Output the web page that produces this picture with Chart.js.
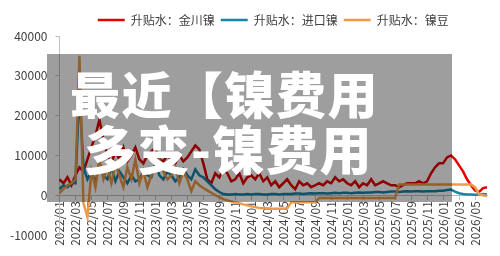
<!DOCTYPE html>
<html>
<head>
<meta charset="utf-8">
<script src="https://cdn.jsdelivr.net/npm/chart.js@4.4.1/dist/chart.umd.min.js"></script>
<style>
  html, body { margin: 0; padding: 0; background: #fff; }
  #wrap { position: relative; width: 500px; height: 256px; overflow: hidden; }
  #shade { position: absolute; left: 47px; top: 54px; width: 405px; height: 148px; background: rgba(0, 0, 0, 0.38); }
  .big { position: absolute; color: #fff; font-family: 'Noto Sans CJK SC', sans-serif; font-weight: 900; line-height: 1; white-space: nowrap; }
</style>
</head>
<body>
<div id="wrap">
  <canvas id="myChart" width="500" height="256"></canvas>
  <div id="shade"></div>
  <div class="big" style="left:70px;top:67px;font-size:50px;letter-spacing:1.5px">最近【镍费用</div>
  <div class="big" style="left:84px;top:122px;font-size:52px;letter-spacing:1.5px">多变-镍费用</div>
</div>
<script>
// half-month points, two per month
var months = [
  "2022/01","2022/02","2022/03","2022/04","2022/05","2022/06","2022/07","2022/08","2022/09","2022/10","2022/11","2022/12",
  "2023/01","2023/02","2023/03","2023/04","2023/05","2023/06","2023/07","2023/08","2023/09","2023/10","2023/11","2023/12",
  "2024/01","2024/02","2024/03","2024/04","2024/05","2024/06","2024/07","2024/08","2024/09","2024/10","2024/11","2024/12",
  "2025/01","2025/02","2025/03","2025/04","2025/05","2025/06","2025/07","2025/08","2025/09","2025/10","2025/11","2025/12",
  "2026/01","2026/02","2026/03","2026/04","2026/05","2026/06"
];
var tickLabels = [
  "2022/01","2022/03","2022/05","2022/07","2022/09","2022/11",
  "2023/01","2023/03","2023/05","2023/07","2023/09","2023/11",
  "2024/01","2024/03","2024/05","2024/07","2024/09","2024/11",
  "2025/01","2025/03","2025/05","2025/07","2025/09","2025/11",
  "2026/01","2026/03","2026/05"
];
var jinchuan = [
  4000,3000, 4500,2500, 5000,7000, 6000,9000, 12000,15000, 19000,14000, 10000,8000, 11000,9000, 12000,8500, 10000,12000, 9000,8000, 10000,11000,
  12000,9000, 8500,10000, 9000,8000, 10000,8500, 9500,11000, 12500,11500, 8000,4000, 3000,5500, 4500,6500, 5500,3500, 4000,5500, 3000,4500,
  5000,4000, 5500,3500, 4500,2500, 3500,2000, 3000,4000, 2500,1500, 3500,2500, 3000,2000, 2500,3000, 2500,3500, 3000,4500, 3500,4000,
  3000,2500, 3500,2000, 3000,2500, 4000,2500, 3000,3500, 3000,2500, 2500,2000, 2500,3000, 3000,3000, 3500,3000, 3500,5500, 7000,8000,
  8000,9500, 10000,9000, 7500,6000, 4000,2500, 1200,800, 1800,2000
];
var imported = [
  1500,2500, 2000,3000, 3000,26000, 7000,4000, 6000,3000, 8000,5000, 4000,7000, 3500,6000, 4500,3000, 5000,3500, 4000,6000, 5000,4500,
  8000,5000, 4000,6000, 5000,3500, 4500,6500, 5000,4000, 6500,5000, 4500,3500, 2500,1500, 800,300, 200,200, 300,200, 200,300,
  200,300, 300,200, 200,300, 300,200, 300,300, 300,400, 400,300, 400,500, 400,500, 500,400, 500,600, 500,600,
  600,500, 600,700, 600,700, 700,800, 800,700, 800,900, 900,800, 900,1000, 900,1000, 1000,900, 1000,1000, 1000,1100,
  1100,1300, 1400,900, 500,300, 200,200, 100,200, 300,200
];
var beans = [
  500,1500, 2500,3000, 4000,35000, -2000,-5500, 6000,2000, 9000,4000, 7000,3000, 8000,5000, 2000,7000, 4000,9000, 3000,6000, 2000,5000,
  7000,9000, 6000,4000, 5000,7000, 3000,6000, 4000,1000, 3500,2500, 1800,1200, 600,0, -500,-1000, -1300,-1600, -1800,-2000, -2300,-2500,
  -2800,-3000, -3200,-3300, -3300,-3400, -3400,-3400, -3400,-3300, -1800,-1800, -1800,-1800, -1800,-1800, -1800,-700, -700,-700, -700,-700, -700,-700,
  -700,-700, -700,-700, -700,-700, -700,-700, -700,-700, -700,-700, -700,2700, 2700,2700, 2700,2700, 2700,2700, 2700,2700, 2700,2700,
  2700,2700, 2700,2700, 2700,2700, 2700,2700, 2000,300, 0,-200
];

var categories = [];
months.forEach(function (m) { categories.push(m); categories.push(m); });

Chart.defaults.font.family = "'Noto Sans CJK SC', 'Noto Sans', sans-serif";
Chart.defaults.color = "#404040";

new Chart("myChart", {
  type: "line",
  data: {
    labels: categories,
    datasets: [{
      label: "升贴水：金川镍",
      data: jinchuan,
      borderColor: "#e60000",
      backgroundColor: "#e60000",
      borderWidth: 2.5,
      order: 3
    }, {
      label: "升贴水：进口镍",
      data: imported,
      borderColor: "#1685a8",
      backgroundColor: "#1685a8",
      borderWidth: 2.5,
      order: 2
    }, {
      label: "升贴水：镍豆",
      data: beans,
      borderColor: "#ee9a4a",
      backgroundColor: "#ee9a4a",
      borderWidth: 2.5,
      order: 1
    }]
  },
  options: {
    responsive: false,
    animation: false,
    devicePixelRatio: 1,
    elements: {
      line: { tension: 0 },
      point: { radius: 0 }
    },
    layout: { padding: { left: 2, right: 13, top: 8, bottom: 21 } },
    plugins: {
      tooltip: { enabled: false },
      legend: {
        position: "top",
        fullSize: false,
        labels: {
          usePointStyle: true,
          pointStyle: "line",
          pointStyleWidth: 27,
          padding: 6,
          font: { size: 12 },
          sort: function (a, b) { return a.datasetIndex - b.datasetIndex; }
        }
      }
    },
    scales: {
      x: {
        type: "category",
        position: { y: 0 },
        offset: false,
        grid: { display: true, drawOnChartArea: false, tickLength: 4, color: "#bfbfbf" },
        border: { color: "#bfbfbf" },
        ticks: {
          autoSkip: false,
          minRotation: 90,
          maxRotation: 90,
          padding: 2,
          font: { size: 12 },
          callback: function (val, i) {
            var lab = this.getLabelForValue(val);
            return (i % 4 === 0 && tickLabels.indexOf(lab) >= 0) ? lab : null;
          }
        }
      },
      y: {
        min: -10000,
        max: 40000,
        grid: { display: true, drawOnChartArea: false, tickLength: 4, color: "#bfbfbf" },
        border: { color: "#bfbfbf" },
        ticks: {
          stepSize: 10000,
          padding: 8,
          font: { size: 12 },
          callback: function (v) { return String(v); }
        }
      }
    }
  }
});
</script>
</body>
</html>
